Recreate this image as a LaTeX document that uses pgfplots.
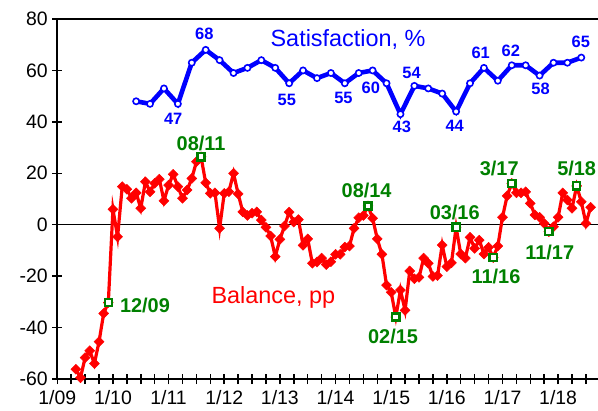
\documentclass[border=0pt]{standalone}
\usepackage{pgfplots}
\usepackage{pgfplotstable}
\pgfplotsset{compat=1.18}
\usepackage{fontspec}
\setmainfont{Liberation Sans}
\definecolor{dgreen}{RGB}{0,128,0}

\pgfplotstableread{
m v
4 -56.2
5 -59.5
6 -51.7
7 -49
8 -54
9 -45.5
10 -34.5
11 -30.3
12 6
13 -4.7
14 14.8
15 13.8
16 10.3
17 12.4
18 6.4
19 16.7
20 12.8
21 16.1
22 17.7
23 9.3
24 15.4
25 19.6
26 14.8
27 10.3
28 13.5
29 18
30 24.5
31 26.4
32 16.3
33 12.2
34 12.4
35 -1.4
36 12.2
37 12.8
38 20
39 12
40 5
41 3.6
42 4.5
43 5
44 1.8
45 -1
46 -4.4
47 -12.4
48 -5.7
49 -0.5
50 4.9
51 1
52 2
53 -8
54 -5.5
55 -15
56 -14.5
57 -13
58 -15.5
59 -14.4
60 -11.5
61 -11.5
62 -8.7
63 -8.3
64 -1.4
65 2.7
66 3.6
67 7.3
68 2.5
69 -5.5
70 -11.5
71 -23.5
72 -26.3
73 -35.9
74 -25.4
75 -33.3
76 -18
77 -21
78 -20.5
79 -13
80 -15
81 -20.1
82 -19.8
83 -7.9
84 -16.3
85 -14.8
86 -1
87 -11.4
88 -13
89 -4.9
90 -9.2
91 -6
92 -11.4
93 -8.8
94 -12.8
95 -8.3
96 2.9
97 11.2
98 16.1
99 12.4
100 12.4
101 12.8
102 8.3
103 3.8
104 2.9
105 0.5
106 -2.7
107 -0.8
108 2.9
109 12.4
110 9.6
111 6.4
112 15.1
113 8.9
114 0.5
115 6.8
}\balance

\pgfplotstableread{
m v
11 -30.3
31 26.4
67 7.3
73 -35.9
86 -1
94 -12.8
98 16.1
106 -2.7
112 15.1
}\turning

\pgfplotstableread{
m v
17 48
20 47
23 53
26 47
29 63
32 68
35 64
38 59
41 61
44 64
47 61
50 55
53 60
56 57
59 59
62 55
65 59
68 60
71 55
74 43
77 54
80 53
83 51
86 44
89 55
92 61
95 56
98 62
101 62
104 58
107 63
110 63
113 65
}\satis

\begin{document}
\begin{tikzpicture}
\begin{axis}[
  scale only axis, width=540.7bp, height=360bp,
  xmin=0, xmax=116.6, ymin=-60, ymax=80,
  axis x line*=box, axis y line*=left,
  axis line style={-, black, line width=1.8bp},
  xtick pos=bottom,
  tick align=center,
  major tick length=10bp, minor tick length=10bp,
  tick style={black, line width=1.5bp},
  xtick={0,12,...,108},
  xticklabels={1/09,1/10,1/11,1/12,1/13,1/14,1/15,1/16,1/17,1/18},
  minor xtick={3,6,...,114},
  ytick={-60,-40,...,80},
  yticklabels={-60,-40,-20,0,20,40,60,80},
  ticklabel style={font=\fontsize{19.5}{22}\selectfont},
  xticklabel style={yshift=-3bp},
  yticklabel style={xshift=-1bp},
  clip=false,
]
\addplot[black, line width=1.3bp, forget plot] coordinates {(0,0) (116.6,0)};
\addplot[red, line width=3.2bp, mark=square*, mark size=3.5bp,
  mark options={rotate=45, fill=red, draw=red, line width=0.5bp}] table[x=m,y=v] {\balance};
\addplot[only marks, mark=square*, mark size=3.6bp,
  mark options={fill=white, draw=dgreen, line width=2.4bp}] table[x=m,y=v] {\turning};
\addplot[blue, line width=4.6bp, mark=*, mark size=3.1bp,
  mark options={fill=white, draw=blue, line width=1.6bp}] table[x=m,y=v] {\satis};

\begin{scope}[every node/.style={text=blue, font=\fontsize{16.5}{19}\selectfont\bfseries, inner sep=0pt}]
\node at (axis cs:25.0,41.0) {47};
\node at (axis cs:31.7,74.1) {68};
\node at (axis cs:49.5,48.5) {55};
\node at (axis cs:61.7,49.4) {55};
\node at (axis cs:67.6,53.4) {60};
\node at (axis cs:74.3,38.1) {43};
\node at (axis cs:76.4,59.1) {54};
\node at (axis cs:85.7,38.4) {44};
\node at (axis cs:91.3,66.7) {61};
\node at (axis cs:97.8,67.7) {62};
\node at (axis cs:104.2,52.7) {58};
\node at (axis cs:112.9,71.2) {65};
\end{scope}
\begin{scope}[every node/.style={text=dgreen, font=\fontsize{20}{24}\selectfont\bfseries, inner sep=0pt}]
\node at (axis cs:18.9,-31.6) {12/09};
\node at (axis cs:31.0,31.7) {08/11};
\node at (axis cs:66.7,13.5) {08/14};
\node at (axis cs:72.4,-43.6) {02/15};
\node at (axis cs:85.7,4.7) {03/16};
\node at (axis cs:94.6,-20) {11/16};
\node at (axis cs:95.3,21.9) {3/17};
\node at (axis cs:106.2,-10.9) {11/17};
\node at (axis cs:112,21.9) {5/18};
\end{scope}
\node[anchor=base, text=blue, font=\fontsize{23.5}{28}\selectfont, inner sep=0pt] at (axis cs:62.7,69.2) {Satisfaction, \%};
\node[anchor=base, text=red, font=\fontsize{23.5}{28}\selectfont, inner sep=0pt] at (axis cs:46.6,-30.6) {Balance, pp};
\end{axis}
\pgfresetboundingbox
\path (current axis.south west) ++(-57.3bp,-32bp) rectangle ++(598bp,411bp);
\end{tikzpicture}
\end{document}
